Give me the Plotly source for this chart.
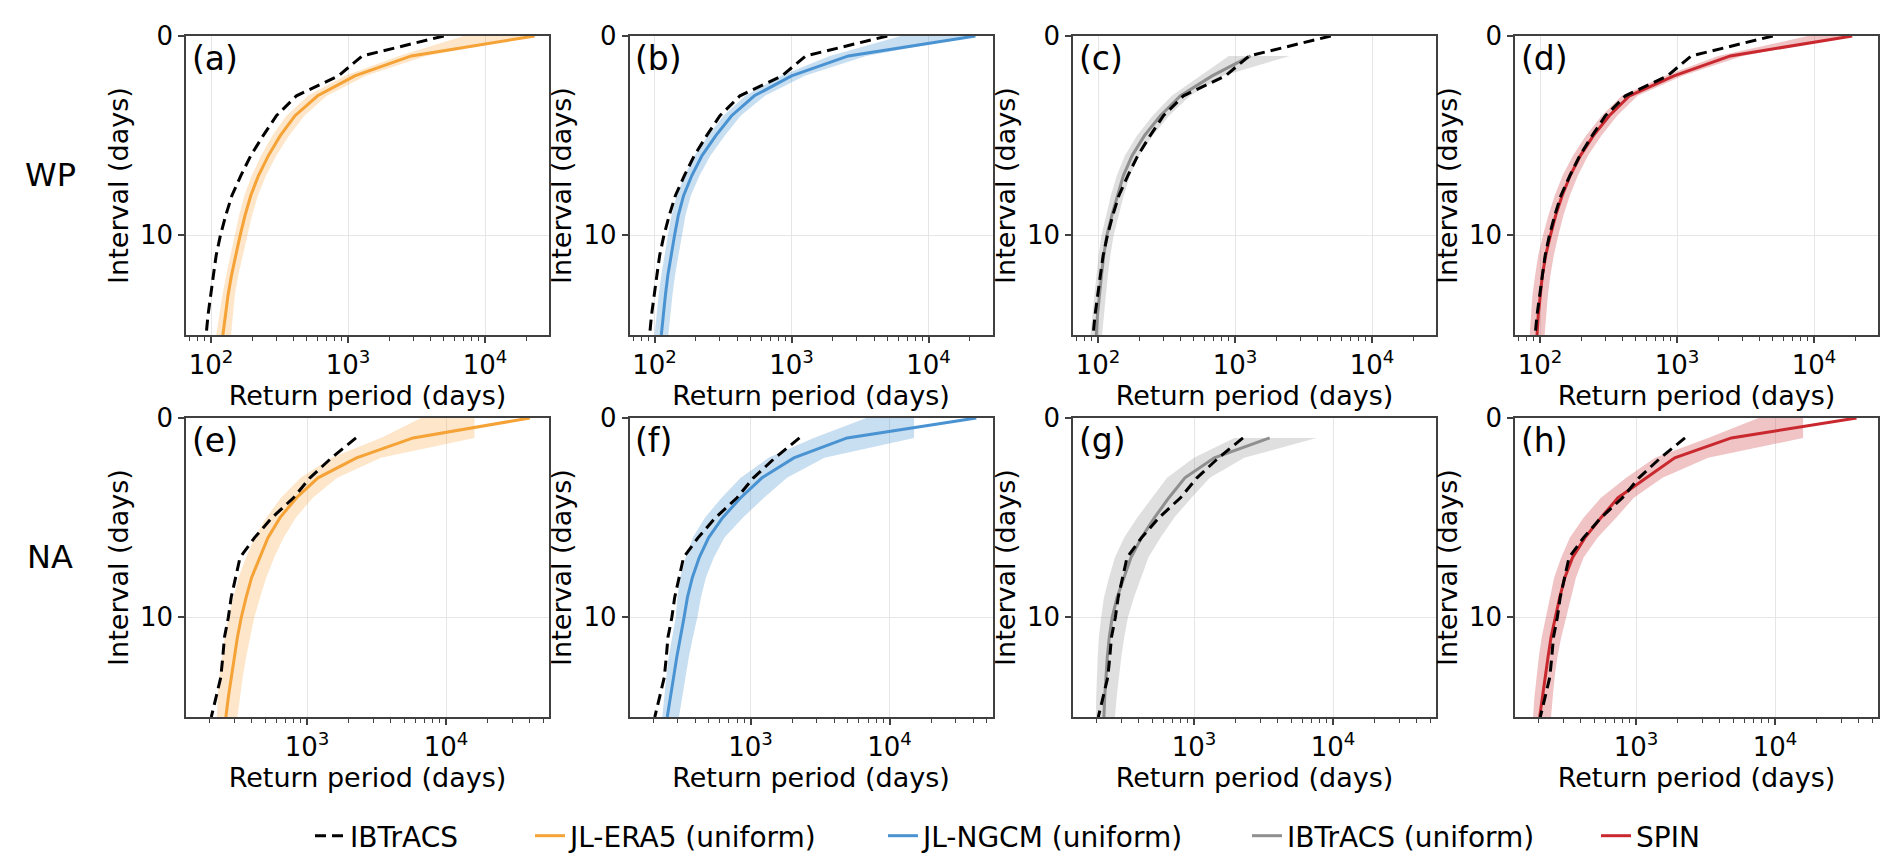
import plotly.graph_objects as go

# ---------------- data ----------------
days = list(range(16))

# West Pacific (row 1)
ibt_wp = [5000, 1270, 850, 420, 300, 240, 195, 165, 142, 128, 117, 109, 104, 99, 95, 92]

era5_wp = [23000, 2900, 1120, 600, 410, 320, 262, 222, 195, 177, 163, 151, 141, 133, 127, 122]
era5_wp_lo = [7000, 2350, 950, 510, 355, 280, 232, 198, 175, 160, 149, 138, 129, 121, 115, 109]
era5_wp_hi = [23000, 3700, 1350, 700, 480, 370, 300, 252, 220, 199, 184, 170, 158, 149, 144, 140]

ngcm_wp = [22000, 2600, 1000, 535, 365, 280, 222, 187, 163, 149, 140, 132, 125, 120, 116, 112]
ngcm_wp_lo = [6300, 1900, 840, 460, 318, 246, 196, 166, 145, 133, 125, 118, 112, 107, 103, 100]
ngcm_wp_hi = [22000, 3500, 1250, 640, 425, 325, 256, 213, 184, 168, 158, 149, 141, 135, 130, 126]

ibtu_wp = [None, 1300, 680, 400, 285, 218, 177, 153, 138, 126, 116, 110, 106, 102, 99, 97]
ibtu_wp_lo = [None, 900, 560, 345, 250, 192, 157, 137, 124, 114, 106, 101, 97, 94, 91, 88]
ibtu_wp_hi = [None, 2500, 820, 470, 330, 250, 200, 171, 154, 141, 130, 123, 118, 114, 110, 107]

spin_wp = [19000, 2450, 950, 450, 320, 245, 197, 166, 145, 130, 119, 110, 104, 100, 97, 95]
spin_wp_lo = [9000, 2000, 820, 395, 282, 216, 174, 146, 128, 115, 105, 97, 92, 88, 86, 84]
spin_wp_hi = [19000, 3000, 1100, 515, 365, 280, 224, 189, 165, 148, 136, 126, 119, 114, 111, 108]

# North Atlantic (row 2)
ibt_na = [None, 2250, 1500, 1050, 800, 560, 420, 330, 305, 285, 272, 255, 248, 240, 222, 205]

era5_na = [40000, 5800, 2270, 1200, 840, 640, 524, 455, 400, 365, 337, 316, 300, 285, 272, 261]
era5_na_lo = [6600, 3400, 1500, 900, 650, 510, 420, 365, 322, 295, 272, 256, 244, 234, 228, 225]
era5_na_hi = [16000, 16000, 3400, 1650, 1100, 830, 680, 580, 510, 460, 418, 390, 365, 345, 330, 316]

ngcm_na = [42000, 4950, 2050, 1210, 850, 630, 500, 428, 382, 352, 333, 312, 295, 280, 265, 252]
ngcm_na_lo = [6800, 2850, 1350, 850, 620, 470, 385, 342, 312, 298, 290, 273, 258, 248, 240, 232]
ngcm_na_hi = [15000, 15000, 3400, 1830, 1250, 880, 650, 545, 478, 440, 415, 385, 360, 340, 322, 306]

ibtu_na = [None, 3500, 1400, 860, 660, 520, 420, 352, 312, 280, 258, 246, 238, 232, 228, 225]
ibtu_na_lo = [None, 1950, 1000, 640, 500, 390, 315, 270, 245, 225, 215, 207, 203, 200, 198, 197]
ibtu_na_hi = [None, 7600, 2300, 1300, 960, 720, 575, 470, 415, 370, 335, 315, 300, 288, 278, 270]

spin_na = [38500, 4850, 1900, 1180, 743, 560, 430, 350, 308, 283, 263, 245, 233, 222, 212, 203]
spin_na_lo = [7600, 3300, 1370, 850, 560, 420, 335, 290, 258, 240, 225, 210, 200, 192, 186, 182]
spin_na_hi = [15900, 15900, 3300, 1550, 965, 720, 530, 420, 370, 340, 315, 290, 272, 260, 252, 245]

panel_labels = ["(a)", "(b)", "(c)", "(d)", "(e)", "(f)", "(g)", "(h)"]
row_labels = ["WP", "NA"]
x_tickvals = [100, 1000, 10000]
x_ticktext = ["10<sup>2</sup>", "10<sup>3</sup>", "10<sup>4</sup>"]
y_tickvals = [0, 10]
x_title = "Return period (days)"
y_title = "Interval (days)"

series_names = ["IBTrACS", "JL-ERA5 (uniform)", "JL-NGCM (uniform)", "IBTrACS (uniform)", "SPIN"]

model_rows = [
    [(era5_wp, era5_wp_lo, era5_wp_hi), (ngcm_wp, ngcm_wp_lo, ngcm_wp_hi),
     (ibtu_wp, ibtu_wp_lo, ibtu_wp_hi), (spin_wp, spin_wp_lo, spin_wp_hi)],
    [(era5_na, era5_na_lo, era5_na_hi), (ngcm_na, ngcm_na_lo, ngcm_na_hi),
     (ibtu_na, ibtu_na_lo, ibtu_na_hi), (spin_na, spin_na_lo, spin_na_hi)],
]
obs_rows = [ibt_wp, ibt_na]

# ---------------- style ----------------
W, H = 1892, 862
FONT = "DejaVu Sans"
line_colors = ["#F5A236", "#4A93D2", "#8F8F8F", "#C8282E"]
band_colors = ["rgba(247,166,60,0.28)", "rgba(74,147,210,0.30)",
               "rgba(150,150,150,0.30)", "rgba(200,40,46,0.28)"]
col_left = [178, 621.5, 1065, 1507]
col_w = 363
row_top = [28, 410]
row_h = 299
x_ranges = [[1.817, 4.467], [2.13, 4.74]]
axis_col = "#404040"

minor_vals = [m * 10 ** e for e in range(1, 5) for m in range(2, 10)]

fig = go.Figure()
layout_axes = {}
annotations = []

legend_text_px = [352, 572, 925, 1289, 1638]
legend_ids = ["legend", "legend2", "legend3", "legend4", "legend5"]

for r in range(2):
    for c in range(4):
        i = r * 4 + c + 1
        xa = "x" if i == 1 else f"x{i}"
        ya = "y" if i == 1 else f"y{i}"
        vals, lo, hi = model_rows[r][c]
        idx = [k for k in range(len(days)) if lo[k] is not None and hi[k] is not None]
        bx = [lo[k] for k in idx] + [hi[k] for k in idx][::-1]
        by = [days[k] for k in idx] + [days[k] for k in idx][::-1]
        fig.add_trace(go.Scatter(x=bx, y=by, xaxis=xa, yaxis=ya, fill="toself",
                                 fillcolor=band_colors[c], line=dict(width=0),
                                 mode="lines", showlegend=False, hoverinfo="skip"))
        midx = [k for k in range(len(days)) if vals[k] is not None]
        fig.add_trace(go.Scatter(x=[vals[k] for k in midx], y=[days[k] for k in midx],
                                 xaxis=xa, yaxis=ya, mode="lines",
                                 line=dict(color=line_colors[c], width=3),
                                 name=series_names[c + 1], legend=legend_ids[c + 1],
                                 showlegend=(r == 0)))
        obs = obs_rows[r]
        oidx = [k for k in range(len(days)) if obs[k] is not None]
        fig.add_trace(go.Scatter(x=[obs[k] for k in oidx], y=[days[k] for k in oidx],
                                 xaxis=xa, yaxis=ya, mode="lines",
                                 line=dict(color="black", width=3, dash="11px,6px"),
                                 name=series_names[0], legend="legend",
                                 showlegend=(i == 1)))

        x0 = col_left[c] / W
        x1 = (col_left[c] + col_w) / W
        y1 = 1 - row_top[r] / H
        y0 = 1 - (row_top[r] + row_h) / H
        xkey = "xaxis" if i == 1 else f"xaxis{i}"
        ykey = "yaxis" if i == 1 else f"yaxis{i}"
        layout_axes[xkey] = dict(
            domain=[x0, x1], anchor=ya, type="log", range=x_ranges[r],
            tickmode="array", tickvals=x_tickvals, ticktext=x_ticktext,
            ticks="outside", ticklen=6, tickwidth=1.5, tickcolor=axis_col,
            showline=True, linecolor=axis_col, linewidth=1.5, mirror=True,
            showgrid=True, gridcolor="#E6E6E6", gridwidth=1, zeroline=False,
            tickfont=dict(family=FONT, size=26, color="black"),
            title=dict(text=x_title, font=dict(family=FONT, size=27, color="black"), standoff=0),
            minor=dict(tickmode="array", tickvals=minor_vals, ticks="outside",
                       ticklen=4, tickwidth=1, tickcolor=axis_col, showgrid=False),
            automargin=False,
        )
        layout_axes[ykey] = dict(
            domain=[y0, y1], anchor=xa, range=[15, 0],
            tickmode="array", tickvals=y_tickvals,
            ticks="outside", ticklen=6, tickwidth=1.5, tickcolor=axis_col,
            showline=True, linecolor=axis_col, linewidth=1.5, mirror=True,
            showgrid=True, gridcolor="#E6E6E6", gridwidth=1, zeroline=False,
            tickfont=dict(family=FONT, size=26, color="black"),
            title=dict(text=y_title, font=dict(family=FONT, size=27, color="black"), standoff=4),
            automargin=False,
        )
        annotations.append(dict(
            text=panel_labels[i - 1], xref=f"{xa} domain", yref=f"{ya} domain",
            x=0.01, y=0.995, xanchor="left", yanchor="top", showarrow=False,
            font=dict(family=FONT, size=33, color="black")))

for r in range(2):
    annotations.append(dict(
        text=row_labels[r], xref="paper", yref="paper", x=42 / W,
        y=1 - (row_top[r] + 139) / H, xanchor="center", yanchor="middle",
        showarrow=False, font=dict(family=FONT, size=32, color="black")))

legends = {}
for j, lid in enumerate(legend_ids):
    legends[lid] = dict(
        x=(legend_text_px[j] - 50) / W, y=1 - 828 / H, xanchor="left", yanchor="middle",
        orientation="h", bgcolor="rgba(0,0,0,0)", borderwidth=0,
        font=dict(family=FONT, size=28, color="black"), itemwidth=30)

fig.update_layout(
    width=W, height=H,
    margin=dict(l=0, r=0, t=0, b=0),
    paper_bgcolor="white", plot_bgcolor="white",
    font=dict(family=FONT, size=26, color="black"),
    annotations=annotations,
    **layout_axes,
    **legends,
)

fig.write_html("out.html")
